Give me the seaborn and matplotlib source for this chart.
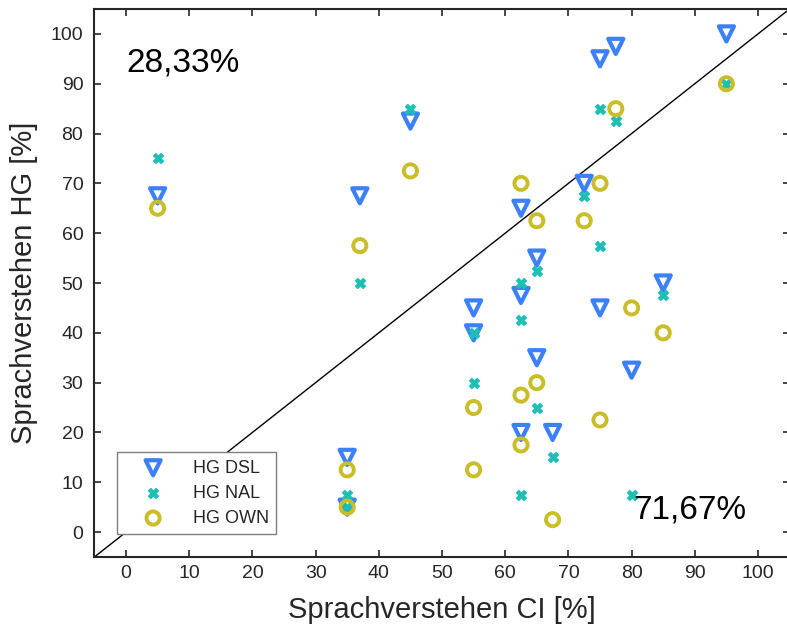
import matplotlib
matplotlib.use("Agg")
import matplotlib.pyplot as plt
import seaborn as sns
import pandas as pd

# Speech understanding with the cochlear implant (x) vs. three hearing aids (y), in percent
ci_score = [5, 35, 35, 37, 45, 55, 55, 62.5, 62.5, 62.5,
            65, 65, 67.5, 72.5, 75, 75, 77.5, 80, 85, 95]
hg_dsl = [67.5, 15, 5, 67.5, 82.5, 45, 40, 65, 47.5, 20,
          55, 35, 20, 70, 95, 45, 97.5, 32.5, 50, 100]
hg_nal = [75, 7.5, 5, 50, 85, 40, 30, 50, 42.5, 7.5,
          52.5, 25, 15, 67.5, 85, 57.5, 82.5, 7.5, 47.5, 90]
hg_own = [65, 12.5, 5, 57.5, 72.5, 25, 12.5, 70, 27.5, 17.5,
          62.5, 30, 2.5, 62.5, 70, 22.5, 85, 45, 40, 90]

series_names = ["HG DSL", "HG NAL", "HG OWN"]
share_above = "28,33%"
share_below = "71,67%"
x_ticks = list(range(0, 101, 10))
y_ticks = list(range(0, 101, 10))

df = pd.DataFrame({
    "ci": ci_score * 3,
    "hg": hg_dsl + hg_nal + hg_own,
    "gruppe": [series_names[0]] * len(hg_dsl)
              + [series_names[1]] * len(hg_nal)
              + [series_names[2]] * len(hg_own),
})

sns.set_theme(style="ticks")
plt.rcParams["font.family"] = ["Liberation Sans", "DejaVu Sans"]
dark = "#262626"

fig = plt.figure(figsize=(7.87, 6.32), dpi=100)
ax = fig.add_axes([94.4 / 787, 75 / 632, 695.2 / 787, 548 / 632])

styles = {
    "HG DSL": dict(marker="v", s=118, facecolors="none", edgecolors="#3B80FF", linewidths=3.0),
    "HG NAL": dict(marker="X", s=60, color="#1CBFB6", edgecolors="#1CBFB6", linewidths=0.5),
    "HG OWN": dict(marker="o", s=90, facecolors="none", edgecolors="#C9BD28", linewidths=2.8),
}

# y = x reference line
ax.plot([-5, 105], [-5, 105], color="black", lw=1.0, zorder=1)

for name in series_names:
    sub = df[df["gruppe"] == name]
    sns.scatterplot(data=sub, x="ci", y="hg", ax=ax, label=name, zorder=3, **styles[name])

ax.set_xlim(-5, 105)
ax.set_ylim(-5, 105)
ax.set_xticks(x_ticks)
ax.set_yticks(y_ticks)

for side in ["left", "right", "top", "bottom"]:
    ax.spines[side].set_visible(True)
    ax.spines[side].set_color(dark)
    ax.spines[side].set_linewidth(1.5)
ax.tick_params(axis="both", direction="in", length=5, width=1.2, color=dark,
               labelsize=14, labelcolor=dark, top=True, right=True)
ax.tick_params(axis="x", pad=6)
ax.tick_params(axis="y", pad=8)

ax.set_xlabel("Sprachverstehen CI [%]", fontsize=21, color=dark, labelpad=10)
ax.set_ylabel("Sprachverstehen HG [%]", fontsize=21, color=dark, labelpad=9)

ax.text(0, 92.4, share_above, fontsize=24, color="black", ha="left", va="baseline")
ax.text(80.3, 2.8, share_below, fontsize=24, color="black", ha="left", va="baseline")

leg = ax.legend(loc="lower left", bbox_to_anchor=(0.0325, 0.042), borderaxespad=0,
                fontsize=13, frameon=True, fancybox=False, framealpha=1,
                edgecolor="#7F7F7F", borderpad=0.4, handlelength=3.2,
                handletextpad=0.6, labelspacing=0.45)
leg.get_frame().set_linewidth(1.0)

fig.savefig("out.png", dpi=100)
